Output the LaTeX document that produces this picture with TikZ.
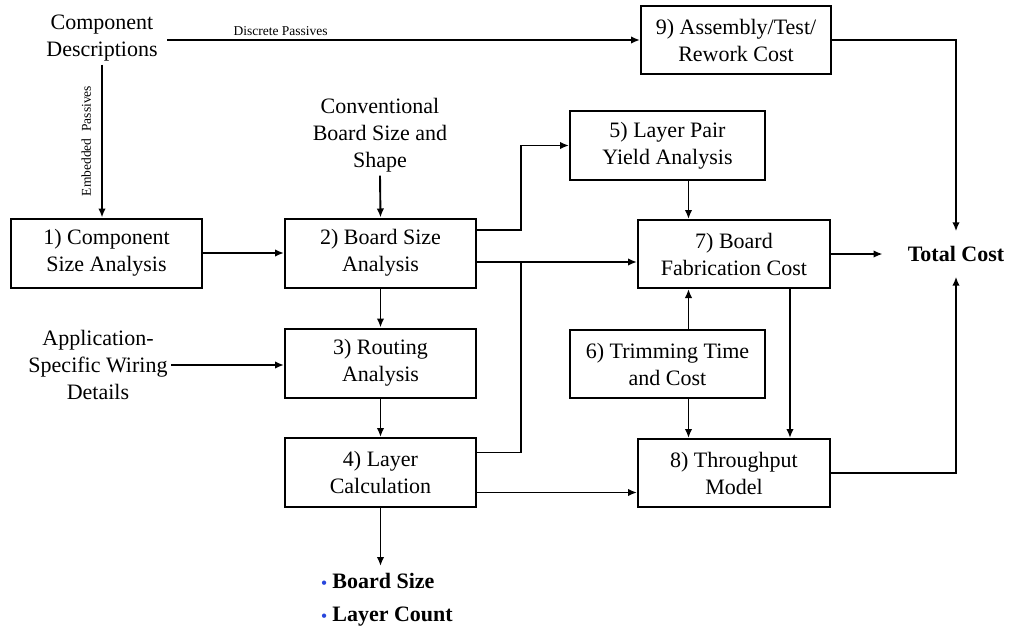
\documentclass[tikz,border=0pt]{standalone}
\usepackage{fontspec}
\setmainfont{Liberation Serif}
\usetikzlibrary{arrows.meta}
\definecolor{bulletblue}{RGB}{40,70,220}
\newcommand{\dotmark}{{\color{bulletblue}\fontsize{16}{16}\selectfont\textbullet}\ }
\begin{document}
\begin{tikzpicture}[x=1pt,y=-1pt,font=\fontsize{22}{27}\selectfont,
  stage/.style={draw,line width=2pt,align=center,inner sep=0pt,minimum height=69pt},
  flow/.style={line width=1.9pt,-{Latex[length=9pt,width=7.5pt]}},
  wire/.style={line width=1.9pt},
  tag/.style={font=\fontsize{13.5}{16}\selectfont}]
\useasboundingbox (0,0) rectangle (1010,630);
\node[align=center] (desc) at (102,38) {Component\\Descriptions};
\node[align=center] (conv) at (380,135) {Conventional\\Board Size and\\Shape};
\node[align=center] (app) at (98,365) {Application-\\Specific Wiring\\Details};
\node[stage,minimum width=191pt] (b1) at (106.5,253) {1) Component\\Size Analysis};
\node[stage,minimum width=191pt] (b2) at (380.5,253) {2) Board Size\\Analysis};
\node[stage,minimum width=191pt] (b3) at (380.5,363) {3) Routing\\Analysis};
\node[stage,minimum width=191pt] (b4) at (380.5,472.5) {4) Layer\\Calculation};
\node[stage,minimum width=195pt] (b5) at (667.5,145.5) {5) Layer Pair\\Yield Analysis};
\node[stage,minimum width=195pt,minimum height=68pt] (b6) at (667.5,364) {6) Trimming Time\\and Cost};
\node[stage,minimum width=192pt,minimum height=68pt] (b7) at (734,254) {7) Board\\Fabrication Cost};
\node[stage,minimum width=192pt,minimum height=68pt] (b8) at (734,473) {8) Throughput\\Model};
\node[stage,minimum width=190pt,minimum height=68pt] (b9) at (736,40) {9) Assembly/Test/\\Rework Cost};
\node[font=\fontsize{22}{27}\selectfont\bfseries,inner xsep=25pt,minimum height=45pt] (total) at (956,254) {Total Cost};
\node[align=left,font=\fontsize{22}{33}\selectfont\bfseries] (res) at (387,600) {\dotmark Board Size\\\dotmark Layer Count};
\coordinate (dp) at ([xshift=6pt]desc.east);
\coordinate (j2) at ([yshift=-9pt]b2.east);
\coordinate (j5) at ([yshift=-20pt]b4.east);
\coordinate (c5) at ([xshift=21pt]b5.south);
\coordinate (c6t) at ([xshift=21pt]b6.north);
\coordinate (c6b) at ([xshift=21pt]b6.south);
\coordinate (c7) at ([xshift=56pt]b7.south);
\coordinate (out) at (380.5,566);
\draw[flow] (dp |- b9.west) -- (b9.west) node[tag,pos=0.24,above] {Discrete Passives};
\draw[flow] (desc.south) -- (desc.south |- b1.north) node[tag,midway,rotate=90,above,inner sep=10pt] {Embedded~ Passives};
\draw[flow] (b1.east) -- (b2.west);
\draw[flow] (conv.south) -- (b2.north);
\draw[flow] (b2.south) -- (b3.north);
\draw[flow] (app.east) -- (app.east -| b3.west);
\draw[flow] (b3.south) -- (b4.north);
\draw[flow] (b4.south) -- (out);
\draw[flow] ([yshift=23pt]b2.east) -- ++(44,0) |- (b5.west);
\draw[flow] (j2) -- (j2 -| b7.west);
\draw[wire] ([yshift=20pt]b4.east) -- ++(44,0) coordinate (k4) -- (k4 |- j2);
\draw[flow] (j5) -- (j5 -| b8.west);
\draw[flow] (c5) -- (c5 |- b7.north);
\draw[flow] (c6t) -- (c6t |- b7.south);
\draw[flow] (c6b) -- (c6b |- b8.north);
\draw[flow] (c7) -- (c7 |- b8.north);
\draw[flow] (b7.east) -- (b7.east -| total.west);
\draw[flow] (b9.east) -| (total.north);
\draw[flow] (b8.east) -| (total.south);
\end{tikzpicture}
\end{document}
